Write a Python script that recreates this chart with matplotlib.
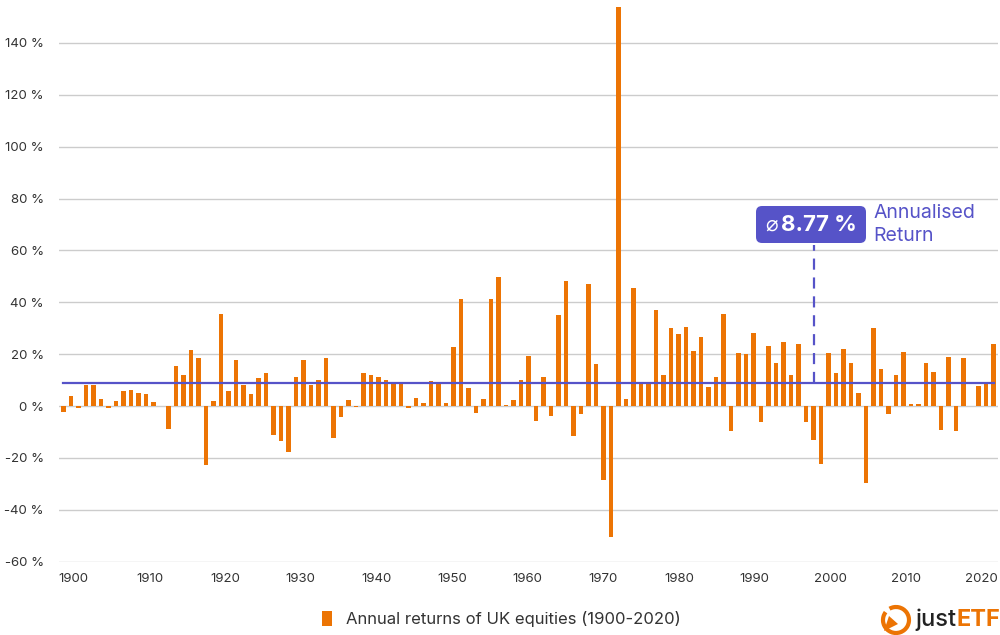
import numpy as np
import matplotlib
matplotlib.use("Agg")
import matplotlib.pyplot as plt
from matplotlib.patches import Patch, FancyBboxPatch, Arc, Polygon

plt.rcParams['font.family'] = ['Inter', 'DejaVu Sans']

years = np.arange(1900, 2025)
returns = [
    -2.3, 3.9, -0.6, 8.0, 8.2, 2.7, -0.8, 1.8, 5.9, 6.3,
    4.9, 4.8, 1.5, 0.1, -9.0, 15.4, 12.1, 21.5, 18.5, -22.8,
    1.8, 35.3, 5.8, 17.9, 8.1, 4.6, 10.7, 12.7, -11.3, -13.4,
    -17.7, 11.1, 17.6, 8.0, 9.9, 18.5, -12.3, -4.1, 2.3, -0.5,
    12.6, 12.1, 11.1, 10.0, 8.9, 8.9, -0.8, 3.2, 1.2, 9.6,
    8.9, 1.2, 22.8, 41.4, 6.9, -2.8, 2.6, 41.4, 49.7, 0.3,
    2.2, 10.2, 19.4, -5.9, 11.3, -3.9, 35.1, 48.3, -11.4, -3.2,
    47.0, 16.1, -28.4, -50.7, 153.9, 2.6, 45.6, 8.8, 8.4, 36.9,
    12.0, 30.1, 27.9, 30.6, 21.2, 26.5, 7.3, 11.1, 35.3, -9.8,
    20.6, 20.1, 28.0, -6.0, 23.1, 16.6, 24.7, 12.0, 24.0, -6.0,
    -13.3, -22.3, 20.6, 12.8, 21.9, 16.6, 5.0, -29.7, 30.2, 14.4,
    -3.1, 12.0, 20.7, 0.9, 0.9, 16.7, 13.0, -9.3, 18.8, -9.5,
    18.4, 0.1, 7.7, 8.5, 24.0,
]
mean_return = 8.77
tick_labels = [str(y) for y in range(1900, 2021, 10)]
tick_pos = np.linspace(1901.4, 2022.4, len(tick_labels))
y_ticks = list(range(-60, 141, 20))

orange = '#ec7404'
purple = '#5653c8'
textc = '#333333'

fig = plt.figure(figsize=(10, 6.35), dpi=100)
ax = fig.add_axes([0.059, 0.1156, 0.939, 0.878])

ax.bar(years, returns, width=0.6, color=orange, zorder=2)
ax.plot([years[0], years[-1]], [mean_return, mean_return], color=purple, lw=1.6, zorder=3)

ax.set_xlim(years[0] - 0.57, years[-1] + 0.57)
ax.set_ylim(-60, 155)
ax.set_yticks(y_ticks)
ax.set_yticklabels([f'{v} %' for v in y_ticks])
ax.set_xticks(tick_pos)
ax.set_xticklabels(tick_labels)
ax.tick_params(axis='y', length=0, pad=11, labelsize=9.5, labelcolor=textc)
ax.tick_params(axis='x', length=0, pad=8, labelsize=9.5, labelcolor=textc)
ax.grid(axis='y', color='#cccccc', lw=1, zorder=0)
for s in ax.spines.values():
    s.set_visible(False)

# annotation: dashed marker + box
ax.plot([2000, 2000], [mean_return, 62], color=purple, lw=1.6, ls=(0, (5, 3.5)), zorder=3)
box = FancyBboxPatch((0.756, 1 - 243 / 635), 0.110, 37 / 635,
                     boxstyle='round,pad=0,rounding_size=0.006',
                     mutation_aspect=1000 / 635,
                     transform=fig.transFigure, facecolor=purple, edgecolor='none')
fig.patches.append(box)
fig.text(0.7715, 1 - 225 / 635, '\u2300', color='white', fontsize=15, ha='center', va='center',
         family=['DejaVu Sans'])
fig.text(0.781, 1 - 225 / 635, '8.77 %', color='white', fontsize=16, fontweight='bold',
         ha='left', va='center')
fig.text(0.873, 1 - 213 / 635, 'Annualised', color=purple, fontsize=14, ha='left', va='center')
fig.text(0.873, 1 - 236 / 635, 'Return', color=purple, fontsize=14, ha='left', va='center')

# legend
fig.legend(handles=[Patch(facecolor=orange, edgecolor='none', label='Annual returns of UK equities (1900-2020)')],
           loc='center', bbox_to_anchor=(0.501, 1 - 619 / 635), frameon=False,
           handlelength=0.65, handleheight=1.0, handletextpad=0.8,
           prop={'size': 12}, labelcolor=textc)

# logo
arc = Arc((0.896, 1 - 620 / 635), 0.026, 0.026 * 1000 / 635, theta1=-230, theta2=110,
          transform=fig.transFigure, color=orange, lw=3)
fig.patches.append(arc)
tri = Polygon([[0.884, 1 - 631 / 635], [0.889, 1 - 616 / 635], [0.898, 1 - 624 / 635]],
              closed=True, transform=fig.transFigure, facecolor=orange, edgecolor='none')
fig.patches.append(tri)
fig.text(0.915, 1 - 620 / 635, 'just', color='#222222', fontsize=17, fontweight='medium',
         ha='left', va='center')
fig.text(0.957, 1 - 620 / 635, 'ETF', color=orange, fontsize=17, fontweight='bold',
         ha='left', va='center')

fig.savefig('out.png', dpi=100)
